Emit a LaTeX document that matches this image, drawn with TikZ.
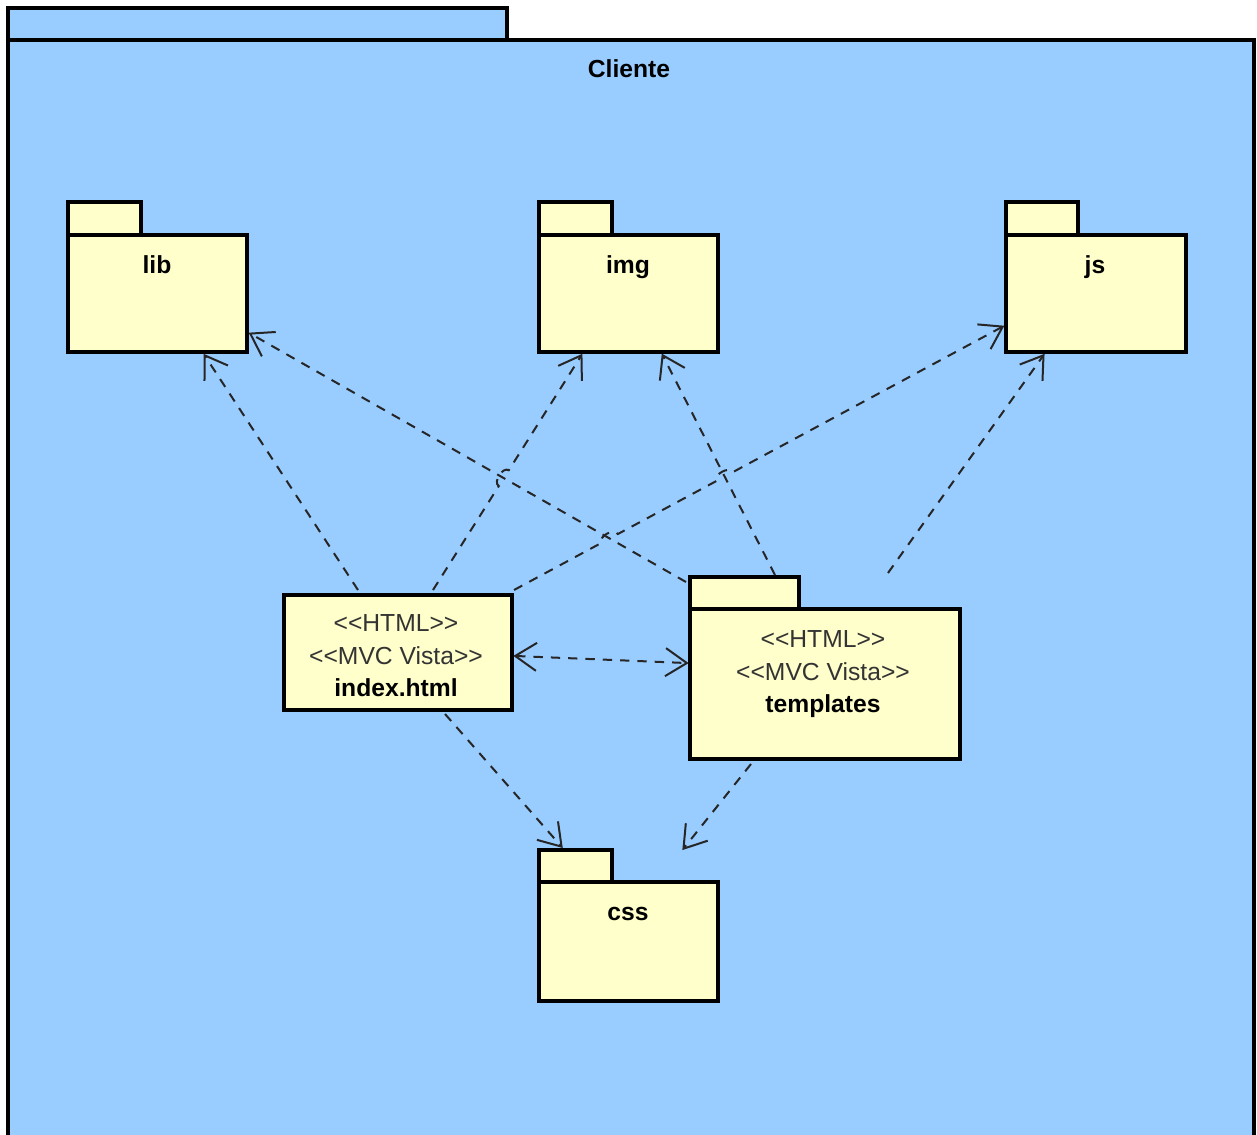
\documentclass[tikz,border=0pt]{standalone}
\usepackage{fontspec}
\setmainfont{Liberation Sans}
\usetikzlibrary{arrows.meta,calc}
\definecolor{pkgblue}{HTML}{99CCFF}
\definecolor{pkgyellow}{HTML}{FFFFCC}
\begin{document}
\begin{tikzpicture}[x=0.75pt,y=-0.75pt,
  frame/.style={draw=black, line width=3pt},
  pkgbody/.style={frame, fill=pkgyellow, inner sep=0pt, rectangle},
  dep/.style={draw=black!85, line width=1.5pt, dash pattern=on 7pt off 6pt},
  deptip/.style={-{Straight Barb[length=16pt,width=21pt]}, shorten >=-2pt},
  lbl/.style={font=\fontsize{18.5}{22}\selectfont\bfseries, anchor=base},
  ster/.style={font=\fontsize{18.5}{22}\selectfont, anchor=base, text=black!80},
]
\useasboundingbox (0,0) rectangle (1257,1135);
\clip (0,0) rectangle (1257,1135);
% outer package
\draw[frame, fill=pkgblue] (8,8) rectangle (507,40);
\draw[frame, fill=pkgblue] (8,40) rectangle (1254,1160);
\node[lbl] (cliente) at (629,77) {Cliente};

% tabs
\node[pkgbody, minimum width=54.75pt, minimum height=24.75pt] (libtab) at (104.5,218.5) {};
\node[pkgbody, minimum width=54.75pt, minimum height=24.75pt] (imgtab) at (575.5,218.5) {};
\node[pkgbody, minimum width=54pt, minimum height=24.75pt] (jstab) at (1042,218.5) {};
\node[pkgbody, minimum width=81.75pt, minimum height=24pt] (tpltab) at (744.5,593) {};
\node[pkgbody, minimum width=54.75pt, minimum height=24pt] (csstab) at (575.5,866) {};

% bodies
\node[pkgbody, minimum width=134.25pt, minimum height=87.75pt] (lib) at (157.5,293.5) {};
\node[pkgbody, minimum width=134.25pt, minimum height=87.75pt] (img) at (628.5,293.5) {};
\node[pkgbody, minimum width=135pt, minimum height=87.75pt] (js) at (1096,293.5) {};
\node[pkgbody, minimum width=134.25pt, minimum height=89.25pt] (css) at (628.5,941.5) {};
\node[pkgbody, minimum width=171pt, minimum height=86.25pt] (index) at (398,652.5) {};
\node[pkgbody, minimum width=202.5pt, minimum height=112.5pt] (tpl) at (825,684) {};

% labels
\node[lbl] (liblbl) at (157,273) {lib};
\node[lbl] (imglbl) at (628,273) {img};
\node[lbl] (jslbl) at (1095,273) {js};
\node[lbl] (csslbl) at (628,920) {css};
\node[ster] (ix1) at (396,631) {<{}<HTML>{}>};
\node[ster] (ix2) at (396,664) {<{}<MVC Vista>{}>};
\node[lbl] (ix3) at (396,696) {index.html};
\node[ster] (tp1) at (823,647) {<{}<HTML>{}>};
\node[ster] (tp2) at (823,680) {<{}<MVC Vista>{}>};
\node[lbl] (tp3) at (823,712) {templates};

% connector end points
\coordinate (iLibS) at ($(index.north west)+(76,-3)$);
\coordinate (iLibE) at ($(lib.south west)+(139,2)$);
\coordinate (iImgS) at ($(index.north west)+(151,-3)$);
\coordinate (iImgE) at ($(img.south west)+(44,2)$);
\coordinate (iJsS) at ($(index.north east)+(0,-3)$);
\coordinate (iJsE) at ($(js.south west)+(-2,-27)$);
\coordinate (tLibS) at ($(tpl.north west)+(-2,-25)$);
\coordinate (tLibE) at ($(lib.south east)+(2,-20)$);
\coordinate (tImgS) at ($(tpl.north west)+(87,-32)$);
\coordinate (tImgE) at ($(img.south west)+(126,2)$);
\coordinate (tJsS) at ($(tpl.north west)+(200,-34)$);
\coordinate (tJsE) at ($(js.south west)+(39,2)$);
\coordinate (itA) at ($(index.east)+(2,3.5)$);
\coordinate (itB) at ($(tpl.west)+(-2,-21)$);
\coordinate (iCssS) at ($(index.south west)+(163,2)$);
\coordinate (iCssE) at ($(csstab.north west)+(24,-2)$);
\coordinate (tCssS) at ($(tpl.south west)+(63,3)$);
\coordinate (tCssE) at ($(csstab.north west)+(147,0)$);

% crossings
\coordinate (xAB) at (intersection of tLibS--tLibE and iImgS--iImgE);
\coordinate (xAC) at (intersection of tLibS--tLibE and iJsS--iJsE);
\coordinate (xCD) at (intersection of iJsS--iJsE and tImgS--tImgE);

% connectors
\draw[dep, deptip] (iLibS) -- (iLibE);
\draw[dep, deptip] (tLibS) -- (tLibE);
\draw[dep, deptip] (tImgS) -- (tImgE);
\draw[dep, deptip] (tJsS) -- (tJsE);
\draw[dep, deptip] (iImgS) -- ($(xAB)!7pt!(iImgS)$) to[bend left=90] ($(xAB)!7pt!(iImgE)$) -- (iImgE);
\draw[dep, deptip] (iJsS) -- ($(xAC)!7pt!(iJsS)$) to[bend left=90] ($(xAC)!7pt!(iJsE)$)
  -- ($(xCD)!7pt!(iJsS)$) to[bend left=90] ($(xCD)!7pt!(iJsE)$) -- (iJsE);
\draw[dep, {Straight Barb[length=16pt,width=21pt]}-{Straight Barb[length=16pt,width=21pt]}, shorten <=-2pt, shorten >=-2pt] (itA) -- (itB);
\draw[dep, deptip] (iCssS) -- (iCssE);
\draw[dep, deptip] (tCssS) -- (tCssE);
\end{tikzpicture}
\end{document}
